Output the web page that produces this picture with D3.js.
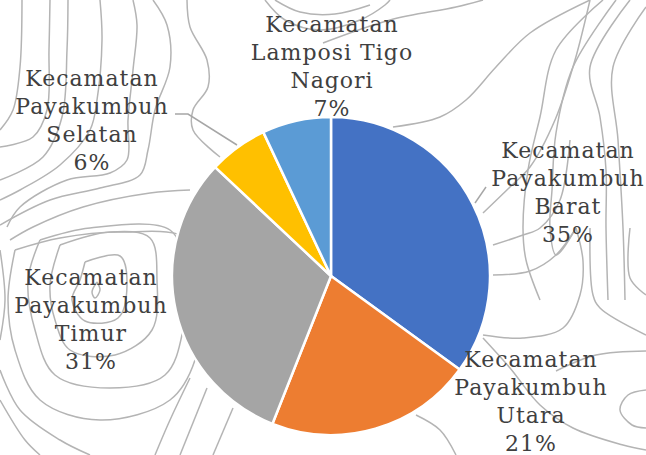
<!DOCTYPE html>
<html><head><meta charset="utf-8">
<script src="https://cdn.jsdelivr.net/npm/d3@7"></script>
<style>html,body{margin:0;padding:0;background:#fff;}svg{display:block;}</style>
</head><body>
<svg id="chart" width="646" height="455"></svg>
<script>
// ---- data ----
const categories = [
  ["Kecamatan", "Payakumbuh", "Barat"],
  ["Kecamatan", "Payakumbuh", "Utara"],
  ["Kecamatan", "Payakumbuh", "Timur"],
  ["Kecamatan", "Payakumbuh", "Selatan"],
  ["Kecamatan", "Lamposi Tigo", "Nagori"]
];
const values = [35, 21, 31, 6, 7];
const percentLabels = ["35%", "21%", "31%", "6%", "7%"];
const colors = ["#4472C4", "#ED7D31", "#A5A5A5", "#FFC000", "#5B9BD5"];

// ---- layout (not data) ----
const W = 646, H = 455;
const cx = 331, cy = 276, R = 159;
const labelPos = [ [568,158], [531,367], [91,285], [92,86], [332,32] ];
const lineH = 28;

const svg = d3.select("#chart");

// decorative topographic background
const contours = [
 [[22,0],[20,67],[13,110],[0,130]],
 [[50,0],[49,50],[47,110],[33,137],[0,147]],
 [[68,0],[67,50],[62,117],[43,157],[0,180]],
 [[100,0],[102,40],[97,100],[90,130],[60,165],[20,190],[0,200]],
 [[133,0],[137,25],[133,70],[128,120],[127,160],[110,173],[67,180],[20,207],[7,227]],
 [[153,0],[167,25],[170,67],[155,110],[148,150],[140,175],[100,188],[50,200],[0,225]],
 [[187,0],[190,27],[207,60],[208,87],[193,110],[193,130],[220,157]],
 [[190,190],[150,193],[83,207],[33,227],[10,240]],
 [[323,43],[390,20],[456,7],[483,0]],
 [[265,0],[285,20],[320,30],[360,20],[385,5],[390,0]],
 [[275,0],[300,12],[335,14],[370,5]],
 [[393,127],[440,117],[466,100],[496,67],[530,33],[590,0]],
 [[603,0],[556,50],[540,117],[528,170],[523,228],[526,260],[540,300]],
 [[616,0],[573,67],[556,133],[552,190],[550,228],[556,255],[576,228]],
 [[630,0],[590,67],[600,117],[606,170],[606,228],[608,300]],
 [[646,7],[613,67],[618,140],[623,228],[625,300]],
 [[483,213],[510,187],[530,167],[555,120],[575,60],[590,0]],
 [[493,245],[523,235],[540,228],[560,200],[570,140]],
 [[493,275],[530,271],[556,255],[576,228]],
 [[483,335],[523,338],[563,328],[580,295],[583,261],[576,228]],
 [[630,228],[630,278],[646,295]],
 [[590,228],[593,295],[600,308],[646,335]],
 [[483,338],[510,368],[540,405],[573,428],[623,445],[646,450]],
 [[556,371],[596,355],[646,351]],
 [[646,390],[628,395],[620,410],[632,425],[646,428]],
 [[416,415],[440,430],[456,455]],
 [[233,408],[213,455]],
 [[207,388],[180,455]],
 [[190,378],[170,420],[155,455]],
 // rings around left area
 [[97,282],[92,292],[95,298],[100,290],[97,282]],
 [[85,262],[120,256],[127,285],[118,318],[85,321],[72,300],[80,280],[85,262]],
 [[60,245],[110,232],[150,238],[157,280],[152,330],[115,355],[70,350],[55,320],[50,285],[60,245]],
 [[40,240],[90,228],[170,230],[185,270],[183,330],[165,375],[110,388],[55,375],[35,330],[28,280],[40,240]],
 [[15,250],[60,238],[120,232],[190,240],[200,300],[195,360],[170,400],[100,420],[40,400],[15,350],[8,300],[15,250]],
 [[0,370],[20,410],[60,440],[90,455]],
 [[0,400],[25,440],[40,455]],
 [[0,250],[5,300],[0,340]]
];
const lineGen = d3.line().curve(d3.curveCatmullRom.alpha(0.5));
svg.append("g").selectAll("path").data(contours).join("path")
  .attr("d", d => lineGen(d))
  .attr("fill", "none")
  .attr("stroke", "#b4b4b4")
  .attr("stroke-width", 1.5);

// pie
const pie = d3.pie().sort(null).value(d => d)(values);
const arc = d3.arc().innerRadius(0).outerRadius(R);
const g = svg.append("g").attr("transform", `translate(${cx},${cy})`);
g.selectAll("path").data(pie).join("path")
  .attr("d", arc)
  .attr("fill", (d, i) => colors[i])
  .attr("stroke", "#fff")
  .attr("stroke-width", 2.5)
  .attr("stroke-linejoin", "round");

// leader lines
const leaders = [
  [[175,114],[188,114],[237,145]],
  [[475,203],[486,187]]
];
svg.append("g").selectAll("path").data(leaders).join("path")
  .attr("d", d => d3.line()(d))
  .attr("fill", "none")
  .attr("stroke", "#a6a6a6")
  .attr("stroke-width", 1.5);

// labels
const lg = svg.append("g")
  .attr("font-family", "'DejaVu Serif', serif")
  .attr("font-size", 22)
  .attr("letter-spacing", 1)
  .attr("fill", "#404040")
  .attr("text-anchor", "middle");
categories.forEach((lines, i) => {
  const [x, y] = labelPos[i];
  const t = lg.append("text").attr("x", x).attr("y", y);
  lines.concat([percentLabels[i]]).forEach((s, k) => {
    t.append("tspan").attr("x", x).attr("y", y + k * lineH).text(s);
  });
});
</script>
</body></html>
